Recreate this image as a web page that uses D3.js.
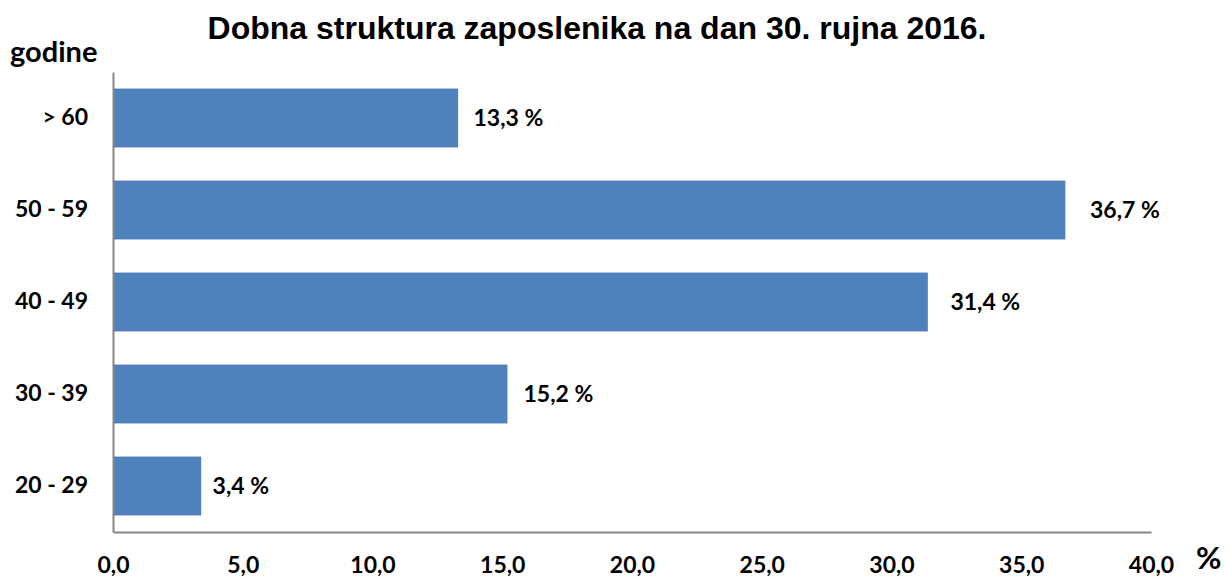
<!DOCTYPE html>
<html>
<head>
<meta charset="utf-8">
<script src="https://cdn.jsdelivr.net/npm/d3@7"></script>
<style>
  body { margin: 0; background: #fff; }
  text { font-family: Lato, "Open Sans", sans-serif; font-weight: bold; fill: #000; }
</style>
</head>
<body>
<script>
// age groups, top to bottom
var categories = ["> 60", "50 - 59", "40 - 49", "30 - 39", "20 - 29"];
var shares = [13.3, 36.7, 31.4, 15.2, 3.4];
var xTicks = [0, 5, 10, 15, 20, 25, 30, 35, 40];

var width = 1228,
    height = 579;

var svg = d3.select("body").append("svg")
    .attr("width", width)
    .attr("height", height);

var x = d3.scaleLinear()
    .domain([0, 40])
    .range([113, 1151]);

var y = d3.scaleBand()
    .domain(categories)
    .range([72, 532])
    .paddingInner(0.36)
    .paddingOuter(0.18);

var fmt = function(v){ return v.toFixed(1).replace(".", ","); };

// title
svg.append("text")
    .attr("x", 597)
    .attr("y", 39)
    .attr("text-anchor", "middle")
    .style("font-family", "'Liberation Sans', Arial, sans-serif")
    .style("font-size", "32px")
    .text("Dobna struktura zaposlenika na dan 30. rujna 2016.");

svg.append("text")
    .attr("x", 10)
    .attr("y", 62)
    .style("font-size", "29px")
    .text("godine");

svg.append("text")
    .attr("x", 1196)
    .attr("y", 569)
    .style("font-size", "31px")
    .text("%");

// bars
svg.selectAll("rect.bar")
    .data(shares).enter()
    .append("rect")
    .attr("class", "bar")
    .attr("x", x(0))
    .attr("y", function(d, i){ return y(categories[i]); })
    .attr("width", function(d){ return x(d) - x(0); })
    .attr("height", y.bandwidth())
    .attr("fill", "#4F81BD");

// value labels
svg.selectAll("text.val")
    .data(shares).enter()
    .append("text")
    .attr("class", "val")
    .attr("x", function(d){ return x(d) + 10 + d * 0.4; })
    .attr("y", function(d, i){ return y(categories[i]) + y.bandwidth() / 2; })
    .attr("dy", "0.35em")
    .style("font-size", "23px")
    .text(function(d){ return fmt(d) + " %"; });

// axes
var xAxis = svg.append("g")
    .attr("transform", "translate(0,532)")
    .call(d3.axisBottom(x).tickValues(xTicks).tickSize(0).tickPadding(25).tickFormat(fmt));
xAxis.select(".domain").attr("stroke", "#868686").attr("stroke-width", 2);
xAxis.selectAll("text").style("font-size", "23px").style("font-family", "Lato, sans-serif");

var yAxis = svg.append("g")
    .attr("transform", "translate(113,0)")
    .call(d3.axisLeft(y).tickSize(0).tickPadding(25));
yAxis.select(".domain").attr("stroke", "#868686").attr("stroke-width", 2);
yAxis.selectAll("text").style("font-size", "23px").style("font-family", "Lato, sans-serif");
</script>
</body>
</html>
